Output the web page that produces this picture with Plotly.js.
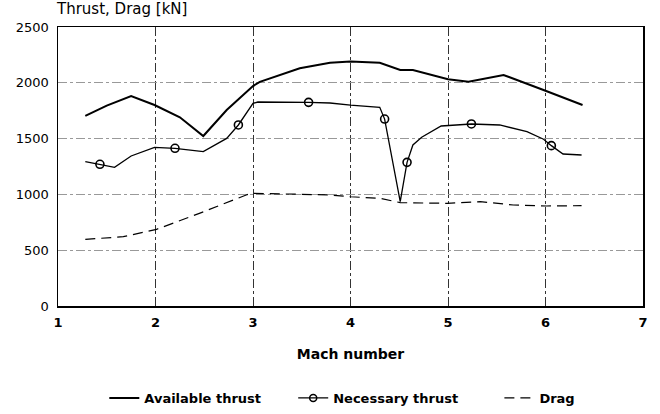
<!DOCTYPE html>
<html><head><meta charset="utf-8">
<script src="https://cdn.plot.ly/plotly-3.0.1.min.js"></script>
<style>html,body{margin:0;padding:0;background:#fff}#c{width:660px;height:414px}</style>
</head><body><div id="c"></div>
<script>
const availX = [1.28,1.50,1.75,1.99,2.25,2.49,2.73,3.00,3.07,3.48,3.79,4.00,4.30,4.51,4.64,5.00,5.21,5.57,6.00,6.38];
const availY = [1703,1795,1882,1801,1691,1523,1756,1971,2008,2130,2180,2190,2180,2115,2115,2031,2010,2070,1929,1801];

const necX = [1.28,1.43,1.58,1.75,1.99,2.20,2.49,2.73,2.85,3.00,3.05,3.57,3.79,4.00,4.30,4.35,4.51,4.58,4.64,4.73,4.93,5.24,5.53,5.81,5.98,6.06,6.18,6.37];
const necY = [1293,1270,1243,1344,1422,1413,1383,1502,1622,1816,1828,1825,1819,1800,1780,1675,935,1287,1443,1512,1613,1631,1622,1562,1494,1437,1362,1353];

const necMarkX = [1.43,2.20,2.85,3.57,4.35,4.58,5.24,6.06];
const necMarkY = [1270,1413,1622,1825,1675,1287,1631,1437];

const dragX = [1.28,1.67,2.01,2.45,2.93,2.99,3.48,3.79,4.00,4.30,4.51,4.64,4.99,5.33,5.67,6.01,6.37];
const dragY = [597,621,687,830,995,1010,1001,995,979,965,926,926,920,935,905,896,899];

const xTicks = [1,2,3,4,5,6,7];
const yTicks = [0,500,1000,1500,2000,2500];
const seriesNames = ['Available thrust', 'Necessary thrust', 'Drag'];

const FONT = 'DejaVu Sans, sans-serif';
const pad = n => '\u00a0'.repeat(n);
const traces = [
  {x: availX, y: availY, mode:'lines', name: seriesNames[0] + pad(6), line:{color:'#000', width:2}},
  {x: necX, y: necY, mode:'lines', legendgroup:'nec', showlegend:false, line:{color:'#000', width:1.3}},
  {x: necMarkX, y: necMarkY, mode:'markers', legendgroup:'nec', showlegend:false,
   marker:{symbol:'circle-open', size:8, color:'#000', line:{width:1.6}}},
  {x: [null], y: [null], mode:'lines+markers', name: seriesNames[1] + pad(8), legendgroup:'nec',
   line:{color:'#000', width:1.3}, marker:{symbol:'circle-open', size:7, color:'#000', line:{width:1.5}}},
  {x: dragX, y: dragY, mode:'lines', name: seriesNames[2], line:{color:'#000', width:1.2, dash:'10px,6px'}}
];
const layout = {
  width:660, height:414,
  margin:{l:58, r:17, t:27, b:108},
  paper_bgcolor:'#fff', plot_bgcolor:'#fff',
  font:{family:FONT, size:13, color:'#000'},
  xaxis:{range:[1,7], tickvals:xTicks, ticks:'', showline:true, mirror:true, linecolor:'#000', linewidth:1.5,
    showgrid:true, gridcolor:'#333', gridwidth:1, griddash:'dashdot', zeroline:false,
    tickfont:{family:FONT, size:13, weight:'bold'}, ticklabelstandoff:4,
    title:{text:'Mach number', font:{family:FONT, size:14, weight:'bold'}, standoff:20}},
  yaxis:{range:[0,2500], tickvals:yTicks, ticks:'', showline:true, mirror:true, linecolor:'#000', linewidth:1.5,
    showgrid:true, gridcolor:'#999', gridwidth:1, griddash:'dashdot', zeroline:false,
    tickfont:{family:FONT, size:13}, ticklabelstandoff:5},
  title:{text:'Thrust, Drag [kN]', x:57/660, xanchor:'left', y:0.992, yanchor:'top',
    font:{family:FONT, size:15}},
  showlegend:true,
  legend:{orientation:'h', x:0.486, xanchor:'center', yref:'container', y:0.075, yanchor:'top',
    font:{family:FONT, size:13, weight:'bold'}, traceorder:'normal', itemwidth:30},
};
Plotly.newPlot('c', traces, layout, {staticPlot:true});
</script></body></html>
